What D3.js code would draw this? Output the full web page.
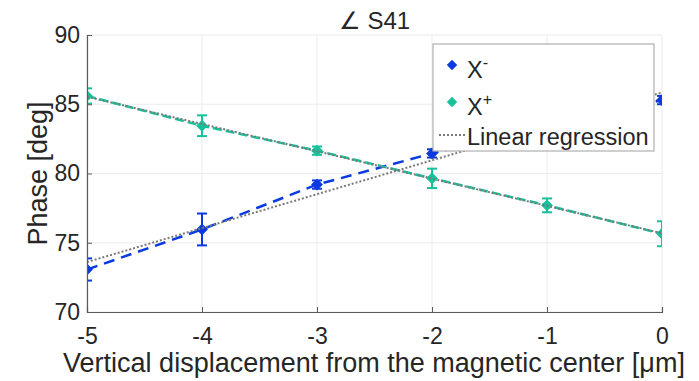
<!DOCTYPE html>
<html><head><meta charset="utf-8">
<script src="https://cdn.jsdelivr.net/npm/d3@7"></script>
<style>body{margin:0;background:#fff}svg{display:block}text{font-family:"Liberation Sans",Arial,sans-serif;fill:#262626}</style>
</head><body>
<svg id="c" width="699" height="381"></svg>
<script>
const xVals = [-5, -4, -3, -2, -1, 0];
const xMinusVals = [73.07, 75.96, 79.2, 81.45, 83.4, 85.3];
const xMinusErr = [0.8, 1.15, 0.3, 0.3, 0.3, 0.3];
const xPlusVals = [85.6, 83.45, 81.65, 79.65, 77.7, 75.65];
const xPlusErr = [0.55, 0.75, 0.3, 0.7, 0.5, 0.9];
const xTicks = [-5, -4, -3, -2, -1, 0];
const yTicks = [70, 75, 80, 85, 90];
const seriesNames = ["X", "X", "Linear regression"];
const seriesSup = ["-", "+", ""];
const colors = {minus: "#0b3ae0", plus: "#17c19b", reg: "#7a7a7a"};

const svg = d3.select("#c");
const m = {l: 87, r: 37, t: 35, b: 69};
const W = 699, H = 381;
const x = d3.scaleLinear().domain([-5, 0]).range([m.l, W - m.r]);
const y = d3.scaleLinear().domain([70, 90]).range([H - m.b, m.t]);

// grid
const g = svg.append("g");
g.selectAll(".gx").data(xTicks).join("line")
  .attr("x1", d => x(d)).attr("x2", d => x(d)).attr("y1", y(70)).attr("y2", y(90))
  .attr("stroke", "#ebebeb").attr("stroke-width", 1);
g.selectAll(".gy").data(yTicks).join("line")
  .attr("y1", d => y(d)).attr("y2", d => y(d)).attr("x1", x(-5)).attr("x2", x(0))
  .attr("stroke", "#ebebeb").attr("stroke-width", 1);

svg.append("clipPath").attr("id", "clip").append("rect")
  .attr("x", x(-5)).attr("y", y(90)).attr("width", x(0) - x(-5)).attr("height", y(70) - y(90));

function regress(xs, ys) {
  const mx = d3.mean(xs), my = d3.mean(ys);
  let sxy = 0, sxx = 0;
  xs.forEach((v, i) => { sxy += (v - mx) * (ys[i] - my); sxx += (v - mx) ** 2; });
  const b = sxy / sxx;
  return xx => my + b * (xx - mx);
}

const plot = svg.append("g").attr("clip-path", "url(#clip)");
const line = d3.line().x(d => x(d[0])).y(d => y(d[1]));

function drawSeries(vals, errs, col, dash) {
  const pts = xVals.map((v, i) => [v, vals[i]]);
  plot.append("path").attr("d", line(pts)).attr("fill", "none")
    .attr("stroke", col).attr("stroke-width", 2.5).attr("stroke-dasharray", dash);
  const eb = plot.append("g").attr("stroke", col).attr("stroke-width", 2);
  pts.forEach((p, i) => {
    const cx = x(p[0]), y1 = y(p[1] - errs[i]), y2 = y(p[1] + errs[i]);
    eb.append("line").attr("x1", cx).attr("x2", cx).attr("y1", y1).attr("y2", y2);
    eb.append("line").attr("x1", cx - 5).attr("x2", cx + 5).attr("y1", y1).attr("y2", y1);
    eb.append("line").attr("x1", cx - 5).attr("x2", cx + 5).attr("y1", y2).attr("y2", y2);
  });
  return pts;
}
function drawMarkers(pts, col) {
  plot.append("g").selectAll("path").data(pts).join("path")
    .attr("d", d3.symbol(d3.symbolDiamond2, 60)())
    .attr("transform", d => `translate(${x(d[0])},${y(d[1])})`)
    .attr("fill", col).attr("stroke", col).attr("stroke-width", 1.5);
}

const pm = drawSeries(xMinusVals, xMinusErr, colors.minus, "11,7");
const pp = drawSeries(xPlusVals, xPlusErr, colors.plus, "9,4");
drawMarkers(pm, colors.minus);
drawMarkers(pp, colors.plus);

[xMinusVals, xPlusVals].forEach(vals => {
  const f = regress(xVals, vals);
  plot.append("path").attr("d", line([[-5, f(-5)], [0, f(0)]])).attr("fill", "none")
    .attr("stroke", colors.reg).attr("stroke-width", 2).attr("stroke-dasharray", "2,2");
});

// axes
const xa = svg.append("g").attr("transform", `translate(0,${y(70)})`)
  .call(d3.axisBottom(x).tickValues(xTicks).tickSize(-5).tickPadding(16).tickFormat(d3.format("d")));
const ya = svg.append("g").attr("transform", `translate(${x(-5)},0)`)
  .call(d3.axisLeft(y).tickValues(yTicks).tickSize(-5).tickPadding(7));
[xa, ya].forEach(a => {
  a.select(".domain").attr("stroke", "#5a5a5a").attr("stroke-width", 1.2);
  a.selectAll(".tick line").attr("stroke", "#5a5a5a");
  a.selectAll("text").style("font-size", "23px").attr("fill", "#262626");
});
xa.selectAll("text").text(d => d < 0 ? "-" + Math.abs(d) : d);

svg.append("text").attr("x", (x(-5) + x(0)) / 2).attr("y", 29).attr("text-anchor", "middle")
  .style("font-size", "24px").text("∠ S41");
svg.append("text").attr("x", 374).attr("y", 372).attr("text-anchor", "middle")
  .style("font-size", "27px").text("Vertical displacement from the magnetic center [μm]");
svg.append("text").attr("transform", `translate(47,${(y(70) + y(90)) / 2}) rotate(-90)`)
  .attr("text-anchor", "middle").style("font-size", "27px").text("Phase [deg]");

// legend
const lg = svg.append("g");
lg.append("rect").attr("x", 433).attr("y", 44).attr("width", 221).attr("height", 107)
  .attr("fill", "#fff").attr("stroke", "#b0b0b0").attr("stroke-width", 1.2);
const markerRows = [65, 102, 135];
const textBase = [78, 115, 145];
[colors.minus, colors.plus].forEach((c, i) => {
  lg.append("path").attr("d", d3.symbol(d3.symbolDiamond2, 55)())
    .attr("transform", `translate(452,${markerRows[i]})`).attr("fill", c).attr("stroke", c);
});
lg.append("line").attr("x1", 439).attr("x2", 465).attr("y1", markerRows[2]).attr("y2", markerRows[2])
  .attr("stroke", colors.reg).attr("stroke-width", 2).attr("stroke-dasharray", "2,2");
seriesNames.forEach((n, i) => {
  const t = lg.append("text").attr("x", 467).attr("y", textBase[i]).style("font-size", "23.5px").text(n);
  if (seriesSup[i]) t.append("tspan").attr("dy", -10).style("font-size", "16px").text(seriesSup[i]);
});
</script>
</body></html>
